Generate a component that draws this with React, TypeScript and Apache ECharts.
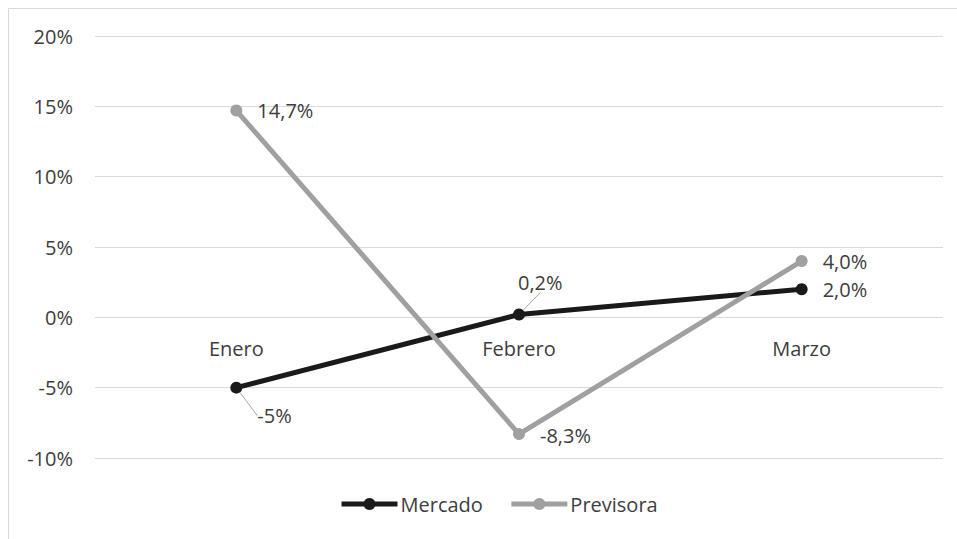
import React, { useEffect, useRef } from "react";
import * as echarts from "echarts";

const categories = ["Enero", "Febrero", "Marzo"];
const mercado = [-5, 0.2, 2.0];
const previsora = [14.7, -8.3, 4.0];
const mercadoLabels = ["-5%", "0,2%", "2,0%"];
const previsoraLabels = ["14,7%", "-8,3%", "4,0%"];
const mercadoLeader = [true, true, false];
const yTicks = { min: -10, max: 20, interval: 5 };

const FONT = "Open Sans";
const TEXT = "#3d3d3d";
const FS = 20;

const GRID_TOP = 36;
const GRID_BOTTOM = 81;
const HEIGHT = 539;

export default function App() {
  const ref = useRef<HTMLDivElement>(null);
  useEffect(() => {
    if (!ref.current) return;
    const chart = echarts.init(ref.current, null, { renderer: "svg" });
    const gridH = HEIGHT - GRID_TOP - GRID_BOTTOM;
    const zeroOffset = -gridH * (0 - yTicks.min) / (yTicks.max - yTicks.min);
    chart.setOption({
      animation: false,
      backgroundColor: "#ffffff",
      textStyle: { fontFamily: FONT },
      graphic: [
        {
          type: "rect",
          shape: { x: 8.5, y: 8.5, width: 980, height: 560 },
          style: { fill: "none", stroke: "#d9d9d9", lineWidth: 1 },
          silent: true,
        },
      ],
      grid: { left: 95, right: 14, top: GRID_TOP, bottom: GRID_BOTTOM, containLabel: false },
      legend: {
        data: ["Mercado", "Previsora"],
        bottom: 20,
        left: 334,
        itemWidth: 56,
        itemHeight: 15,
        itemGap: 26,
        lineStyle: { width: 5 },
        textStyle: { fontFamily: FONT, fontSize: FS, color: TEXT, padding: [0, 0, 0, -2] },
      },
      xAxis: {
        type: "category",
        data: categories,
        boundaryGap: true,
        offset: zeroOffset,
        axisLine: { show: false },
        axisTick: { show: false },
        axisLabel: { margin: 21, fontFamily: FONT, fontSize: FS, color: TEXT },
      },
      yAxis: {
        type: "value",
        min: yTicks.min,
        max: yTicks.max,
        interval: yTicks.interval,
        axisLine: { show: false },
        axisTick: { show: false },
        axisLabel: {
          margin: 22,
          fontFamily: FONT,
          fontSize: FS,
          color: TEXT,
          formatter: (v: number) => v + "%",
        },
        splitLine: { lineStyle: { color: "#d9d9d9", width: 1 } },
      },
      series: [
        {
          name: "Mercado",
          type: "line",
          data: mercado.map((v, i) => ({
            value: v,
            labelLine: { show: mercadoLeader[i] },
          })),
          symbol: "circle",
          symbolSize: 12,
          itemStyle: { color: "#1a1a1a" },
          lineStyle: { color: "#1a1a1a", width: 5 },
          label: {
            show: true,
            position: "right",
            distance: 15,
            fontFamily: FONT,
            fontSize: FS,
            color: TEXT,
            formatter: (p: any) => mercadoLabels[p.dataIndex],
          },
          labelLine: { show: true, lineStyle: { color: "#a6a6a6", width: 1 } },
          labelLayout: (p: any) => {
            if (p.dataIndex === 0) return { dx: 0, dy: 28 };
            if (p.dataIndex === 1) return { dx: -22, dy: -32 };
            return {};
          },
          z: 2,
        },
        {
          name: "Previsora",
          type: "line",
          data: previsora,
          symbol: "circle",
          symbolSize: 12,
          itemStyle: { color: "#a0a0a0" },
          lineStyle: { color: "#a0a0a0", width: 5 },
          label: {
            show: true,
            position: "right",
            distance: 15,
            fontFamily: FONT,
            fontSize: FS,
            color: TEXT,
            formatter: (p: any) => previsoraLabels[p.dataIndex],
          },
          labelLayout: (p: any) => {
            if (p.dataIndex === 1) return { dy: 1 };
            return {};
          },
          z: 3,
        },
      ],
    });
    return () => chart.dispose();
  }, []);
  return (
    <div
      ref={ref}
      style={{ position: "fixed", left: 0, top: 0, width: 957, height: 539 }}
    />
  );
}
